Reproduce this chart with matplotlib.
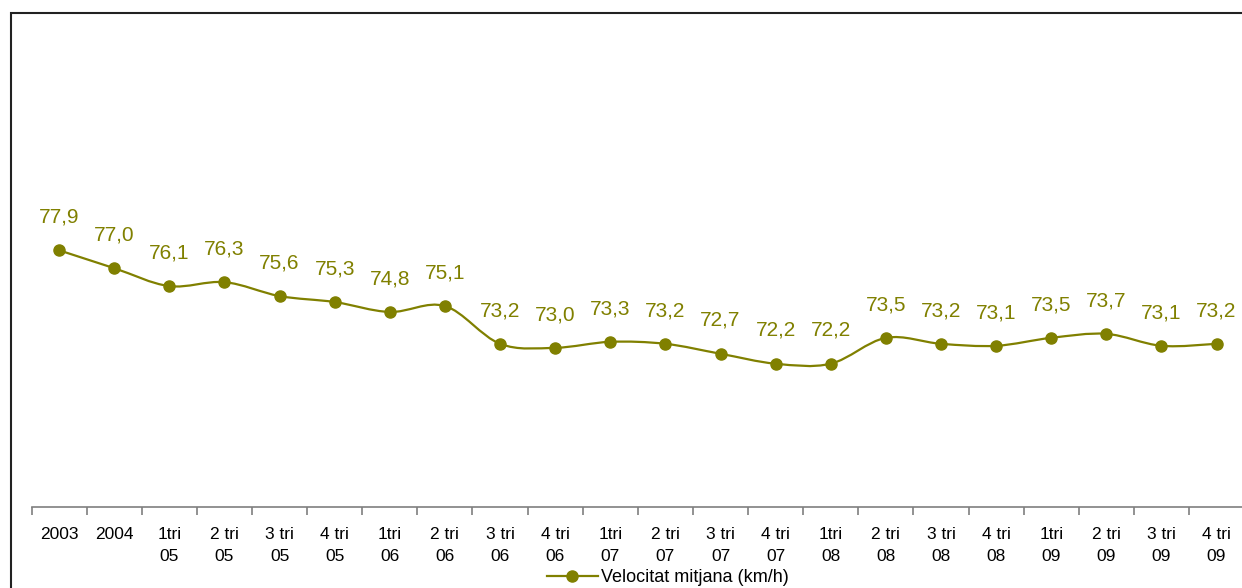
import matplotlib
matplotlib.use('Agg')

import matplotlib.pyplot as plt
import numpy as np
from matplotlib.path import Path
from matplotlib.patches import PathPatch, Rectangle
from matplotlib.lines import Line2D

plt.rcParams['font.family'] = ['Liberation Sans', 'DejaVu Sans']

# data
periods = ['2003', '2004', '1tri\n05', '2 tri\n05', '3 tri\n05', '4 tri\n05',
           '1tri\n06', '2 tri\n06', '3 tri\n06', '4 tri\n06', '1tri\n07',
           '2 tri\n07', '3 tri\n07', '4 tri\n07', '1tri\n08', '2 tri\n08',
           '3 tri\n08', '4 tri\n08', '1tri\n09', '2 tri\n09', '3 tri\n09',
           '4 tri\n09']
speed = [77.9, 77.0, 76.1, 76.3, 75.6, 75.3, 74.8, 75.1, 73.2, 73.0, 73.3,
         73.2, 72.7, 72.2, 72.2, 73.5, 73.2, 73.1, 73.5, 73.7, 73.1, 73.2]
series_name = 'Velocitat mitjana (km/h)'

color = '#808000'

fig = plt.figure(figsize=(12.42, 5.88), dpi=100)
ax = fig.add_axes([0.0254, 0.1378, 0.9763, 0.6768])

x = np.arange(len(speed))
y = np.array(speed)

# smoothed line (bezier segments like the spreadsheet "smooth line" option)
pts = np.column_stack([x, y])
ext = np.vstack([pts[0], pts, pts[-1]])
verts = [tuple(pts[0])]
codes = [Path.MOVETO]
for i in range(len(pts) - 1):
    p0, p1, p2, p3 = ext[i], ext[i + 1], ext[i + 2], ext[i + 3]
    c1 = p1 + (p2 - p0) / 6
    c2 = p2 - (p3 - p1) / 6
    verts += [tuple(c1), tuple(c2), tuple(p2)]
    codes += [Path.CURVE4] * 3
ax.add_patch(PathPatch(Path(verts, codes), facecolor='none', edgecolor=color,
                       lw=1.6, zorder=2))
ax.plot(x, y, linestyle='none', marker='o', markersize=8, color=color, zorder=3)

for xi, yi in zip(x, y):
    ax.annotate(f'{yi:.1f}'.replace('.', ','), (xi, yi), xytext=(0, 20),
                textcoords='offset points', ha='center', va='baseline',
                fontsize=15, color=color)

ax.set_xlim(-0.5, len(speed) - 0.5)
ax.set_ylim(65, 85)

for s in ['top', 'right', 'left']:
    ax.spines[s].set_visible(False)
ax.spines['bottom'].set_color('#7f7f7f')
ax.spines['bottom'].set_linewidth(1.2)
ax.set_yticks([])

ax.set_xticks(np.arange(-0.5, len(speed), 1.0))
ax.set_xticklabels([])
ax.tick_params(axis='x', which='major', direction='out', length=6,
               color='#7f7f7f', width=1.2)
ax.set_xticks(x, minor=True)
ax.set_xticklabels(periods, minor=True, fontsize=12.5, linespacing=1.6)
ax.tick_params(axis='x', which='minor', length=0, pad=14.5)

# outer chart frame
fig.patches.append(Rectangle((11 / 1242, -0.1), 1.2, 1 - 13 / 588 + 0.1,
                             transform=fig.transFigure, fill=False,
                             edgecolor='#222222', lw=1.5))

handle = Line2D([], [], color=color, lw=1.6, marker='o', markersize=8)
fig.legend([handle], [series_name], loc='center',
           bbox_to_anchor=(668 / 1242, 1 - 578 / 588), frameon=False,
           fontsize=13, handlelength=2.8, handletextpad=0.2,
           borderpad=0, borderaxespad=0)

fig.savefig('out.png', dpi=100)
